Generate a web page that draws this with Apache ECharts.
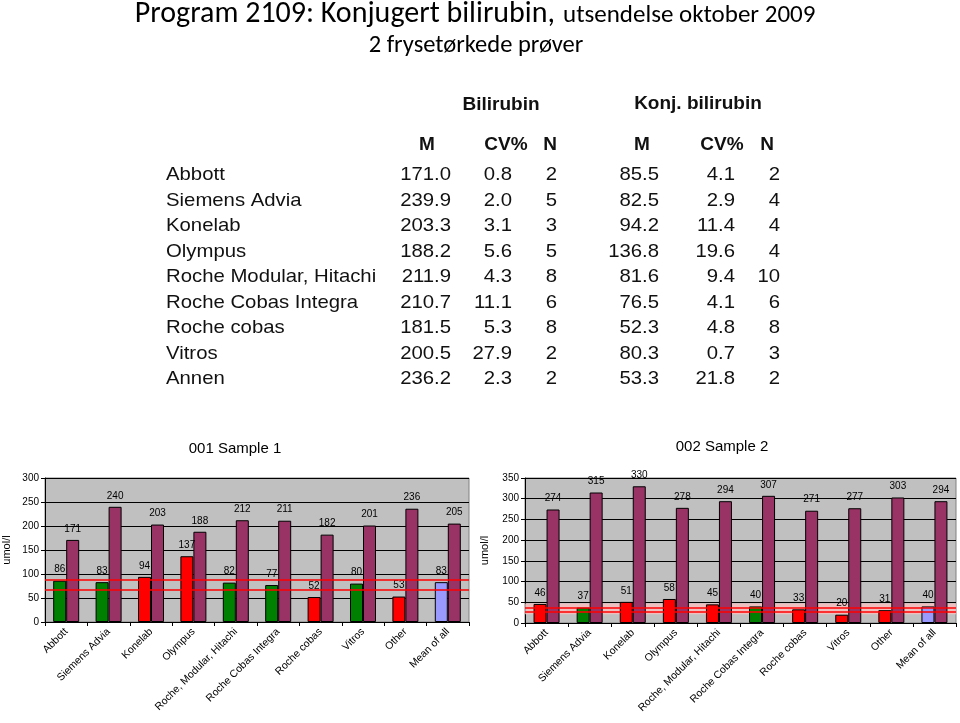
<!DOCTYPE html>
<html>
<head>
<meta charset="utf-8">
<script src="https://cdn.jsdelivr.net/npm/echarts/dist/echarts.min.js"></script>
<style>
html,body{margin:0;padding:0;background:#fff;}
#chart{width:960px;height:723px;}
</style>
</head>
<body>
<div id="chart"></div>
<script>
// ---------- Data ----------
const categories = ['Abbott','Siemens Advia','Konelab','Olympus','Roche, Modular, Hitachi','Roche Cobas Integra','Roche cobas','Vitros','Other','Mean of all'];

const s1Konj = [86, 83, 94, 137, 82, 77, 52, 80, 53, 83];
const s1Bili = [171, 240, 203, 188, 212, 211, 182, 201, 236, 205];
const s1Status = ['ok','ok','dev','dev','ok','ok','dev','ok','dev','mean'];
const s1Limits = [68, 87];

const s2Konj = [46, 37, 51, 58, 45, 40, 33, 20, 31, 40];
const s2Bili = [274, 315, 330, 278, 294, 307, 271, 277, 303, 294];
const s2Status = ['dev','ok','dev','dev','dev','ok','dev','dev','dev','mean'];
const s2Limits = [26, 38];
const s2Band = [21, 47];

const s1Ticks = [0, 50, 100, 150, 200, 250, 300];
const s2Ticks = [0, 50, 100, 150, 200, 250, 300, 350];

const tableRows = ['Abbott','Siemens Advia','Konelab','Olympus','Roche Modular, Hitachi','Roche Cobas Integra','Roche cobas','Vitros','Annen'];
const biliM  = ['171.0','239.9','203.3','188.2','211.9','210.7','181.5','200.5','236.2'];
const biliCV = ['0.8','2.0','3.1','5.6','4.3','11.1','5.3','27.9','2.3'];
const biliN  = ['2','5','3','5','8','6','8','2','2'];
const konjM  = ['85.5','82.5','94.2','136.8','81.6','76.5','52.3','80.3','53.3'];
const konjCV = ['4.1','2.9','11.4','19.6','9.4','4.1','4.8','0.7','21.8'];
const konjN  = ['2','4','4','4','10','6','8','3','2'];

// ---------- Styles ----------
const statusColor = { ok: '#008000', dev: '#ff0000', mean: '#9999ff' };
const purple = '#993366';
const AR = 'Arial, "Liberation Sans", sans-serif';
const TT = 'Carlito, Lato, "Open Sans", sans-serif';

// ---------- Table graphic ----------
const graphics = [];
function txt(text, x, y, opt) {
  graphics.push({
    type: 'text', x: x, y: y, scaleX: opt.scaleX || 1,
    style: {
      text: text, fill: opt.fill || '#111',
      font: (opt.weight || 'normal') + ' ' + opt.size + 'px ' + (opt.family || AR),
      textAlign: opt.align || 'left', textVerticalAlign: opt.valign || 'middle'
    }
  });
}
// main titles
txt('Program 2109: Konjugert bilirubin,', 555, 14, {size: 30, family: TT, align: 'right', fill: '#000'});
txt('utsendelse oktober 2009', 563, 16, {size: 25, family: TT, align: 'left', fill: '#000'});
txt('2 frysetørkede prøver', 476, 46, {size: 24.5, family: TT, align: 'center', fill: '#000'});

// table headers
txt('Bilirubin', 501, 105, {size: 19, weight: 'bold', align: 'center'});
txt('Konj. bilirubin', 698, 104, {size: 19, weight: 'bold', align: 'center'});
txt('M', 427, 145, {size: 19, weight: 'bold', align: 'center'});
txt('CV%', 506, 145, {size: 19, weight: 'bold', align: 'center'});
txt('N', 550, 145, {size: 19, weight: 'bold', align: 'center'});
txt('M', 642, 145, {size: 19, weight: 'bold', align: 'center'});
txt('CV%', 722, 145, {size: 19, weight: 'bold', align: 'center'});
txt('N', 767, 145, {size: 19, weight: 'bold', align: 'center'});

const rowY0 = 175, rowStep = 25.5;
tableRows.forEach((r, i) => {
  const y = rowY0 + i * rowStep;
  const o = {size: 19, scaleX: 1.07};
  txt(r, 166, y, o);
  txt(biliM[i], 451, y, Object.assign({align: 'right'}, o));
  txt(biliCV[i], 512, y, Object.assign({align: 'right'}, o));
  txt(biliN[i], 557, y, Object.assign({align: 'right'}, o));
  txt(konjM[i], 659, y, Object.assign({align: 'right'}, o));
  txt(konjCV[i], 735, y, Object.assign({align: 'right'}, o));
  txt(konjN[i], 780, y, Object.assign({align: 'right'}, o));
});

// ---------- Chart ----------
function konjData(vals, status) {
  return vals.map((v, i) => ({ value: v, itemStyle: { color: statusColor[status[i]] } }));
}
const barLabel = { show: true, position: 'top', distance: 6, fontSize: 10, color: '#000', fontFamily: AR };
const barBorder = { borderColor: '#000', borderWidth: 1 };

function xAxis(gi) {
  return {
    type: 'category', gridIndex: gi, data: categories,
    axisLine: { lineStyle: { color: '#000', width: 1 } },
    axisTick: { show: true, length: 4, lineStyle: { color: '#000' } },
    axisLabel: { interval: 0, rotate: 45, fontSize: 10.5, color: '#000', fontFamily: AR, margin: 8 }
  };
}
function yAxis(gi, ticks, gap) {
  return {
    type: 'value', gridIndex: gi, min: ticks[0], max: ticks[ticks.length - 1], interval: ticks[1] - ticks[0],
    name: 'umol/l', nameLocation: 'middle', nameGap: gap, nameRotate: 90,
    nameTextStyle: { fontSize: 11, color: '#000', fontFamily: AR },
    axisLine: { show: true, lineStyle: { color: '#000' } },
    axisTick: { show: true, length: 4, lineStyle: { color: '#000' } },
    axisLabel: { fontSize: 10, color: '#000', fontFamily: AR, margin: 6 },
    splitLine: { show: true, lineStyle: { color: '#000', width: 1 } }
  };
}
function limitLines(lims) {
  return {
    silent: true, symbol: 'none', label: { show: false },
    lineStyle: { color: '#ff0000', width: 1.5, type: 'solid' },
    data: lims.map(v => ({ yAxis: v }))
  };
}

const option = {
  backgroundColor: '#fff',
  animation: false,
  title: [
    { text: '001 Sample 1', left: 230, top: 436, textAlign: 'center',
      textStyle: { fontSize: 15, fontWeight: 'normal', color: '#000', fontFamily: AR } },
    { text: '002 Sample 2', left: 717, top: 434, textAlign: 'center',
      textStyle: { fontSize: 15, fontWeight: 'normal', color: '#000', fontFamily: AR } }
  ],
  grid: [
    { left: 43, top: 478, width: 426, height: 144, show: true, backgroundColor: '#c0c0c0', borderColor: '#808080', borderWidth: 1 },
    { left: 525, top: 478, width: 431, height: 145, show: true, backgroundColor: '#c0c0c0', borderColor: '#808080', borderWidth: 1 }
  ],
  xAxis: [xAxis(0), xAxis(1)],
  yAxis: [yAxis(0, s1Ticks, 33), yAxis(1, s2Ticks, 35)],
  series: [
    { type: 'bar', xAxisIndex: 0, yAxisIndex: 0, data: konjData(s1Konj, s1Status),
      barWidth: 13, barGap: '0%', itemStyle: barBorder, label: barLabel,
      markLine: limitLines(s1Limits) },
    { type: 'bar', xAxisIndex: 0, yAxisIndex: 0, data: s1Bili,
      barWidth: 13, barGap: '0%', itemStyle: Object.assign({ color: purple }, barBorder), label: barLabel },
    { type: 'bar', xAxisIndex: 1, yAxisIndex: 1, data: konjData(s2Konj, s2Status),
      barWidth: 13, barGap: '0%', itemStyle: barBorder, label: barLabel, z: 3,
      markArea: { silent: true, itemStyle: { color: 'rgba(255,190,190,0.75)' }, data: [[{ yAxis: s2Band[0] }, { yAxis: s2Band[1] }]] },
      markLine: limitLines(s2Limits) },
    { type: 'bar', xAxisIndex: 1, yAxisIndex: 1, data: s2Bili,
      barWidth: 13, barGap: '0%', itemStyle: Object.assign({ color: purple }, barBorder), label: barLabel }
  ],
  graphic: graphics
};

const chart = echarts.init(document.getElementById('chart'), null, { renderer: 'canvas' });
chart.setOption(option);
</script>
</body>
</html>
